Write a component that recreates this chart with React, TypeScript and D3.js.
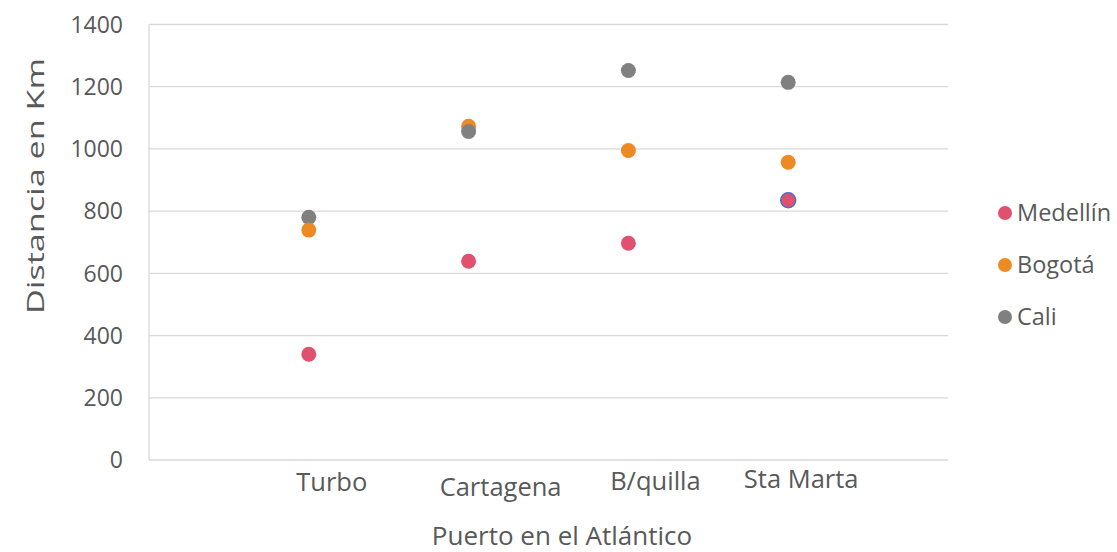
import * as d3 from 'd3'

const ports = ['Turbo', 'Cartagena', 'B/quilla', 'Sta Marta']
const medellin = [340, 639, 697, 835]
const bogota = [739, 1073, 995, 957]
const cali = [780, 1056, 1252, 1214]
const yTicks = [0, 200, 400, 600, 800, 1000, 1200, 1400]

const seriesNames = ['Medellín', 'Bogotá', 'Cali']
const seriesColors = ['#E0516F', '#EE8A24', '#808080']

// hand-placed category label nudges (the source uses loose text boxes)
const labelDx = [23, 32, 27, 13]
const labelY = [491, 496, 490, 488]

const W = 1117
const H = 552
const margin = { top: 24.5, right: 169, bottom: 92, left: 149 }
const font = '"Open Sans", sans-serif'
const textColor = '#595959'
const gridColor = '#D9D9D9'

export default function App() {
  const x = d3.scaleLinear().domain([0, 5]).range([margin.left, W - margin.right])
  const y = d3.scaleLinear().domain([0, 1400]).range([H - margin.bottom, margin.top])

  const series = [medellin, bogota, cali]
  const points = series
    .flatMap((vals, s) =>
      vals.map((v, i) => ({
        s,
        i,
        v,
        // Sta Marta Medellín point has a blue outline in the source
        stroke: s === 0 && i === 3 ? '#4472C4' : 'none',
      }))
    )
    .sort((a, b) => b.v - a.v)

  return (
    <svg
      width={W}
      height={H}
      viewBox={`0 0 ${W} ${H}`}
      style={{ position: 'absolute', left: 0, top: 0, background: '#fff', fontFamily: font }}
    >
      {/* Grid */}
      {yTicks.map((t) => (
        <line
          key={t}
          x1={margin.left}
          x2={W - margin.right}
          y1={y(t)}
          y2={y(t)}
          stroke={gridColor}
          strokeWidth={1.3}
        />
      ))}
      <line
        x1={margin.left}
        x2={margin.left}
        y1={y(1400)}
        y2={y(0)}
        stroke={gridColor}
        strokeWidth={1.3}
      />

      {/* Y tick labels */}
      {yTicks.map((t) => (
        <text
          key={t}
          x={123}
          y={y(t)}
          dy="0.36em"
          textAnchor="end"
          fontSize={23}
          fill={textColor}
        >
          {t}
        </text>
      ))}

      {/* Category labels */}
      {ports.map((p, i) => (
        <text
          key={p}
          x={x(i + 1) + labelDx[i]}
          y={labelY[i]}
          textAnchor="middle"
          fontSize={25.5}
          fill={textColor}
        >
          {p}
        </text>
      ))}

      {/* Points */}
      {points.map((d) => (
        <circle
          key={`${d.s}-${d.i}`}
          cx={x(d.i + 1)}
          cy={y(d.v)}
          r={7.5}
          fill={seriesColors[d.s]}
          stroke={d.stroke}
          strokeWidth={1.5}
        />
      ))}

      {/* Axis titles */}
      <text
        transform="translate(44,186) rotate(-90)"
        textAnchor="middle"
        fontSize={24}
        textLength={256}
        lengthAdjust="spacingAndGlyphs"
        fill={textColor}
      >
        Distancia en Km
      </text>
      <text x={562} y={545} textAnchor="middle" fontSize={26} fill={textColor}>
        Puerto en el Atlántico
      </text>

      {/* Legend */}
      {seriesNames.map((n, i) => (
        <g key={n} transform={`translate(1005,${213 + i * 52})`}>
          <circle r={7} fill={seriesColors[i]} />
          <text x={12} dy="0.36em" fontSize={23.5} fill={textColor}>
            {n}
          </text>
        </g>
      ))}
    </svg>
  )
}
